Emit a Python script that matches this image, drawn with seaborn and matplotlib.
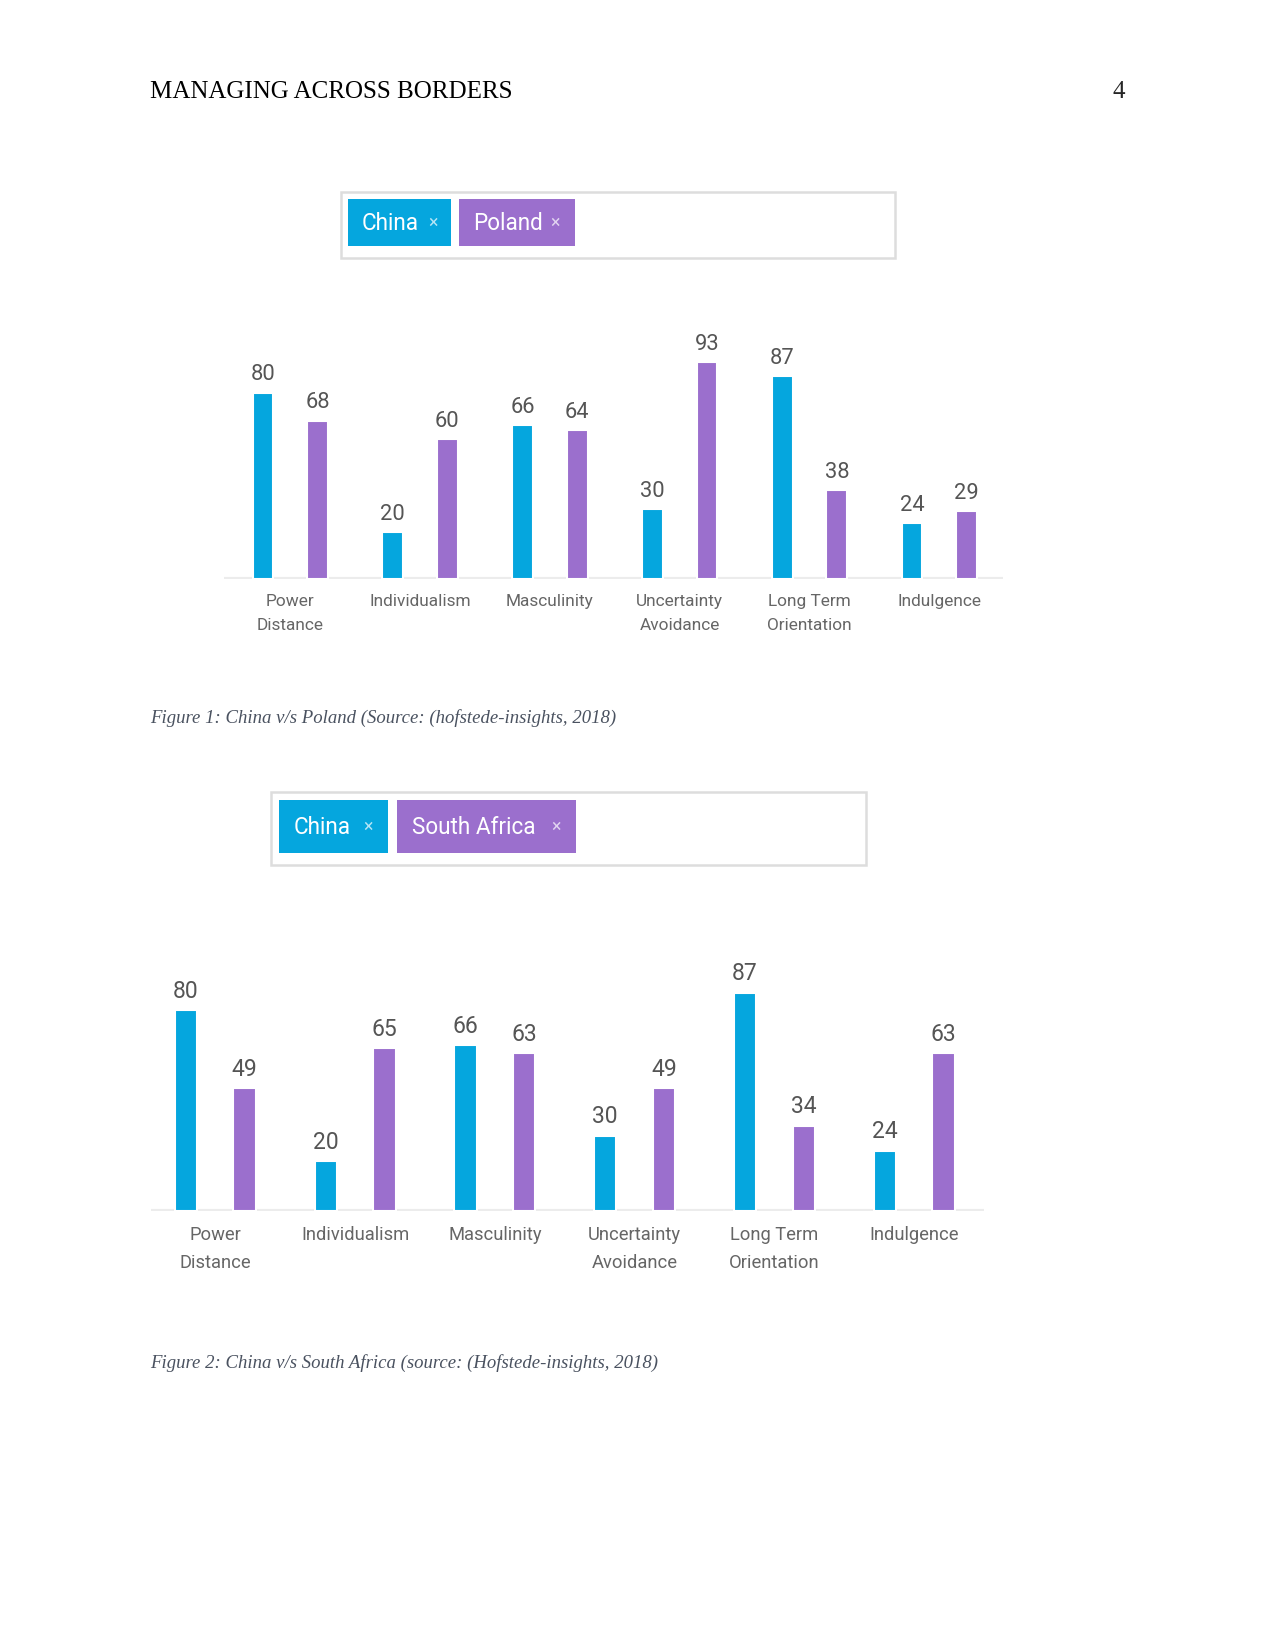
import matplotlib
matplotlib.use("Agg")
import matplotlib.pyplot as plt
from matplotlib.patches import Rectangle
import pandas as pd
import seaborn as sns

# ── DATA ──────────────────────────────────────────────────────────────────────
CATEGORIES = ["Power\nDistance", "Individualism", "Masculinity",
              "Uncertainty\nAvoidance", "Long Term\nOrientation", "Indulgence"]
CHINA        = [80, 20, 66, 30, 87, 24]
POLAND       = [68, 60, 64, 93, 38, 29]
SOUTH_AFRICA = [49, 65, 63, 49, 34, 63]

BLUE   = "#05a6de"
PURPLE = "#9b6fcd"
W, H   = 1275, 1651

sns.set_style("white")
plt.rcParams["font.family"] = ["Roboto", "DejaVu Sans"]

fig = plt.figure(figsize=(W / 150, H / 150), dpi=150)

# page overlay in pixel coords
page = fig.add_axes([0, 0, 1, 1])
page.set_xlim(0, W); page.set_ylim(H, 0); page.axis("off")

serif = ["Liberation Serif", "DejaVu Serif"]
page.text(150, 92, "MANAGING ACROSS BORDERS", fontsize=12, family=serif,
          va="center", ha="left", color="black")
page.text(1125, 92, "4", fontsize=12, family=serif, va="center", ha="right")

page.text(150, 718, "Figure 1: China v/s Poland (Source: (hofstede-insights, 2018)",
          fontsize=9, family=serif, style="italic", color="#4a5260", va="center")
page.text(150, 1363, "Figure 2: China v/s South Africa (source: (Hofstede-insights, 2018)",
          fontsize=9, family=serif, style="italic", color="#4a5260", va="center")


def tag_box(box, tags, yc):
    x0, y0, x1, y1 = box
    page.add_patch(Rectangle((x0, y0), x1 - x0, y1 - y0, fill=False,
                             edgecolor="#dddddd", lw=1.2))
    for (tx0, ty0, tx1, ty1, color, label, lx, xx) in tags:
        page.add_patch(Rectangle((tx0, ty0), tx1 - tx0, ty1 - ty0,
                                 facecolor=color, edgecolor="none"))
        page.text(lx, yc, label, fontsize=10.8, color="white", va="center", ha="left")
        page.text(xx, yc, "×", fontsize=8.5, color="white", alpha=0.7,
                  va="center", ha="left")


tag_box((341, 192, 895, 258),
        [(348, 199, 451, 246, BLUE, "China", 362, 428),
         (459, 199, 575, 246, PURPLE, "Poland", 473, 550)], 223)
tag_box((271, 792, 866, 865),
        [(279, 800, 388, 853, BLUE, "China", 294, 363),
         (397, 800, 576, 853, PURPLE, "South Africa", 412, 551)], 827)


def chart(px_left, px_right, px_base, px_per_unit, xlim, other, other_name,
          val_size, lab_size):
    top = px_base - 100 * px_per_unit
    ax = fig.add_axes([px_left / W, (H - px_base) / H,
                       (px_right - px_left) / W, (px_base - top) / H])
    ax.patch.set_alpha(0)
    df = pd.DataFrame({
        "dimension": CATEGORIES * 2,
        "score": CHINA + other,
        "country": ["China"] * len(CATEGORIES) + [other_name] * len(CATEGORIES),
    })
    sns.barplot(data=df, x="dimension", y="score", hue="country",
                palette=[BLUE, PURPLE], saturation=1, width=0.84, gap=0.62,
                legend=False, ax=ax, zorder=2)
    for cont in ax.containers:
        ax.bar_label(cont, padding=3.5, fontsize=val_size, color="#555555")
    ax.axhline(0, color="#ececec", lw=2, zorder=1)
    ax.set_xlim(*xlim); ax.set_ylim(0, 100)
    sns.despine(ax=ax, left=True, bottom=True)
    ax.set_yticks([])
    ax.set_xlabel(""); ax.set_ylabel("")
    ax.tick_params(axis="x", length=0, pad=7, labelsize=lab_size, labelcolor="#666666")
    for t in ax.get_xticklabels():
        t.set_linespacing(1.75)
    return ax


chart(224, 1003, 579, 2.33, (-0.51, 5.49), POLAND, "Poland", 10.5, 8.3)
chart(151, 984, 1211, 2.51, (-0.46, 5.5), SOUTH_AFRICA, "South Africa", 11, 8.8)

fig.savefig("out.png", dpi=150, facecolor="white")
